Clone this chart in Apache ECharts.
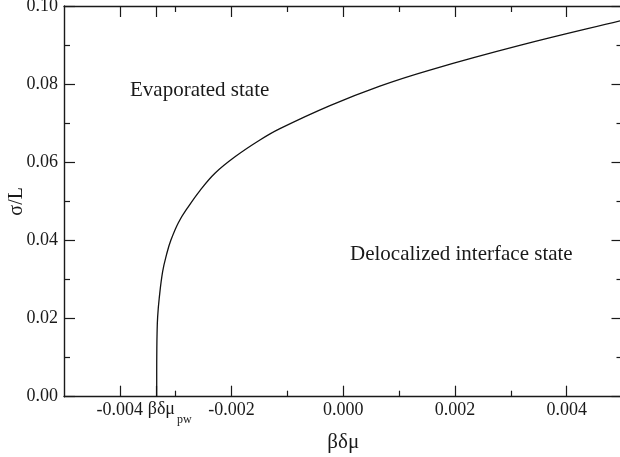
<!DOCTYPE html>
<html>
<head>
<meta charset="utf-8">
<script src="https://cdn.jsdelivr.net/npm/echarts@6/dist/echarts.min.js"></script>
<style>
  html, body { margin: 0; padding: 0; background: #fff; }
  #chart { width: 620px; height: 457px; }
</style>
</head>
<body>
<div id="chart"></div>
<script>
// Phase boundary between the evaporated and delocalized-interface states
const betaDeltaMu = [-0.00334, -0.00334, -0.003338, -0.003334, -0.003323, -0.003295, -0.003234,
  -0.00316, -0.00309, -0.00295, -0.002775, -0.002569, -0.002297, -0.001939, -0.001492,
  -0.001134, -0.000238, 0.000655, 0.00155, 0.00316, 0.00496, 0.005];
const sigmaOverL = [0, 0.006, 0.012, 0.016, 0.0205, 0.0252, 0.0320,
  0.0366, 0.0399, 0.0446, 0.0486, 0.0527, 0.0572, 0.0614, 0.0657,
  0.0686, 0.0745, 0.0795, 0.0836, 0.0899, 0.0962, 0.0963];

// Tick positions
const xMajorTicks = [-0.004, -0.002, 0, 0.002, 0.004];
const xMinorTicks = [-0.003, -0.001, 0.001, 0.003];
const xPinningTick = -0.00334;          // βδμ_pw
const yMajorTicks = [0, 0.02, 0.04, 0.06, 0.08, 0.10];
const yMinorTicks = [0.01, 0.03, 0.05, 0.07, 0.09];

const FONT = '"Liberation Serif", "Times New Roman", serif';
const INK = '#1a1a1a';
const X_RANGE = { min: -0.005, max: 0.005, interval: 0.001 };
const Y_RANGE = { min: 0, max: 0.10, interval: 0.01 };

function tickAxis(range, position, ticks, len, withLine) {
  return Object.assign({
    type: 'value',
    position: position,
    axisLine: { show: withLine, onZero: false, lineStyle: { color: INK, width: 1.4 } },
    axisTick: { show: true, inside: true, length: len, customValues: ticks,
      lineStyle: { color: INK, width: 1.2 } },
    axisLabel: { show: false },
    splitLine: { show: false }
  }, range);
}

const bottomMain = tickAxis(X_RANGE, 'bottom', xMajorTicks.concat([xPinningTick]), 11, true);
bottomMain.axisLabel = {
  show: true, customValues: xMajorTicks, margin: 5,
  formatter: v => v.toFixed(3),
  fontFamily: FONT, fontSize: 18, color: INK
};
bottomMain.name = 'βδμ';
bottomMain.nameLocation = 'middle';
bottomMain.nameGap = 35;
bottomMain.nameMoveOverlap = false;
bottomMain.nameTextStyle = { fontFamily: FONT, fontSize: 21, color: INK };

const bottomPinLabel = tickAxis(X_RANGE, 'bottom', [], 0, false);
bottomPinLabel.axisTick = { show: false };
bottomPinLabel.axisLabel = {
  show: true, customValues: [xPinningTick], margin: -4,
  formatter: () => '{g|βδμ}{s|pw}',
  rich: {
    g: { fontFamily: FONT, fontSize: 18, color: INK, padding: [0, 0, 0, 26] },
    s: { fontFamily: FONT, fontSize: 12, color: INK, padding: [21, 0, 0, 2] }
  }
};

const leftMain = tickAxis(Y_RANGE, 'left', yMajorTicks, 11, true);
leftMain.axisLabel = {
  show: true, customValues: yMajorTicks, margin: 6,
  formatter: v => v.toFixed(2),
  fontFamily: FONT, fontSize: 18, color: INK
};
leftMain.name = 'σ/L';
leftMain.nameLocation = 'middle';
leftMain.nameRotate = 90;
leftMain.nameGap = 37;
leftMain.nameMoveOverlap = false;
leftMain.nameTextStyle = { fontFamily: FONT, fontSize: 20, color: INK };

const option = {
  backgroundColor: '#ffffff',
  animation: false,
  grid: { left: 64, right: -2.5, top: 6, bottom: 60.3, containLabel: false, outerBoundsMode: 'none' },
  xAxis: [
    bottomMain,
    tickAxis(X_RANGE, 'bottom', xMinorTicks, 6, false),
    bottomPinLabel,
    tickAxis(X_RANGE, 'top', xMajorTicks.concat([xPinningTick]), 11, true),
    tickAxis(X_RANGE, 'top', xMinorTicks, 6, false)
  ],
  yAxis: [
    leftMain,
    tickAxis(Y_RANGE, 'left', yMinorTicks, 6, false),
    tickAxis(Y_RANGE, 'right', yMajorTicks, 11, true),
    tickAxis(Y_RANGE, 'right', yMinorTicks, 6, false)
  ],
  series: [{
    type: 'line',
    xAxisIndex: 0,
    yAxisIndex: 0,
    data: betaDeltaMu.map((x, i) => [x, sigmaOverL[i]]),
    smooth: 0.4,
    showSymbol: false,
    lineStyle: { color: '#111', width: 1.3 }
  }],
  graphic: [
    { type: 'text', x: 130, y: 90,
      style: { text: 'Evaporated state', font: '21px ' + FONT, fill: INK, verticalAlign: 'middle' } },
    { type: 'text', x: 350, y: 254,
      style: { text: 'Delocalized interface state', font: '21px ' + FONT, fill: INK, verticalAlign: 'middle' } }
  ]
};

echarts.init(document.getElementById('chart'), null, { renderer: 'canvas' }).setOption(option);
</script>
</body>
</html>
